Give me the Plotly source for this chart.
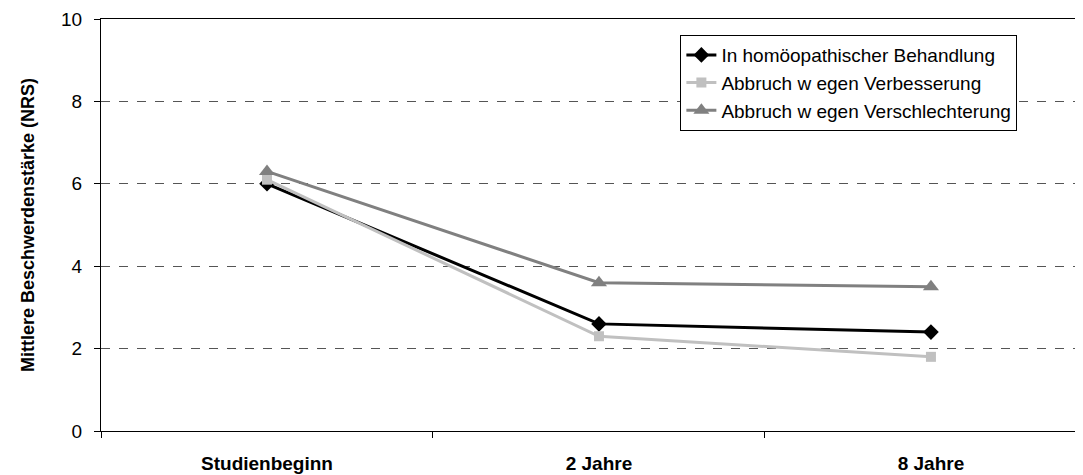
import plotly.graph_objects as go

categories = ["Studienbeginn", "2 Jahre", "8 Jahre"]
homoeopathie = [6.0, 2.6, 2.4]
verbesserung = [6.1, 2.3, 1.8]
verschlechterung = [6.3, 3.6, 3.5]

series_names = [
    "In homöopathischer Behandlung",
    "Abbruch w egen Verbesserung",
    "Abbruch w egen Verschlechterung",
]

FONT = "Arial, Liberation Sans, sans-serif"

fig = go.Figure()
fig.add_trace(go.Scatter(
    x=categories, y=homoeopathie, name=series_names[0], mode="lines+markers",
    legendgroup="a",
    line=dict(color="#000000", width=3),
    marker=dict(symbol="diamond", size=12, color="#000000"),
))
fig.add_trace(go.Scatter(
    x=categories, y=verbesserung, name=series_names[1], mode="lines+markers",
    legendgroup="b",
    line=dict(color="#c0c0c0", width=3),
    marker=dict(symbol="square", size=10, color="#c0c0c0"),
))
fig.add_trace(go.Scatter(
    x=categories, y=verschlechterung, name=series_names[2], mode="lines+markers",
    legendgroup="c",
    line=dict(color="#808080", width=3),
    marker=dict(symbol="triangle-up", size=14, color="#808080"),
))

fig.update_layout(
    width=1075, height=467,
    margin=dict(l=93, r=0, t=11, b=44),
    paper_bgcolor="white", plot_bgcolor="white",
    font=dict(family=FONT, color="black"),
    showlegend=True,
    legend=dict(
        x=0.59, y=0.961, xanchor="left", yanchor="top",
        bgcolor="white", bordercolor="black", borderwidth=1,
        font=dict(family=FONT, size=19, color="black"),
        tracegroupgap=0, itemsizing="trace",
    ),
)

fig.update_xaxes(
    type="category", categoryorder="array", categoryarray=categories,
    range=[-0.5, 2.458], automargin=False,
    showline=True, linecolor="black", linewidth=1, mirror=True,
    ticks="outside", ticklen=6, tickcolor="black", tickson="boundaries",
    showgrid=False, zeroline=False,
    tickfont=dict(family=FONT, size=19, color="black", weight="bold"),
    ticklabelstandoff=15,
)

fig.update_yaxes(
    range=[0, 10], tickvals=[0, 2, 4, 6, 8, 10], automargin=False,
    showline=True, linecolor="black", linewidth=1,
    ticks="outside", ticklen=6, tickcolor="black",
    showgrid=True, gridcolor="#555555", griddash="dash", gridwidth=1,
    zeroline=False,
    tickfont=dict(family=FONT, size=19, color="black"),
    ticklabelstandoff=8,
    title=dict(text="<b>Mittlere Beschwerdenstärke (NRS)</b>",
               font=dict(family=FONT, size=18, color="black"), standoff=21),
)

fig.write_html("out.html")
